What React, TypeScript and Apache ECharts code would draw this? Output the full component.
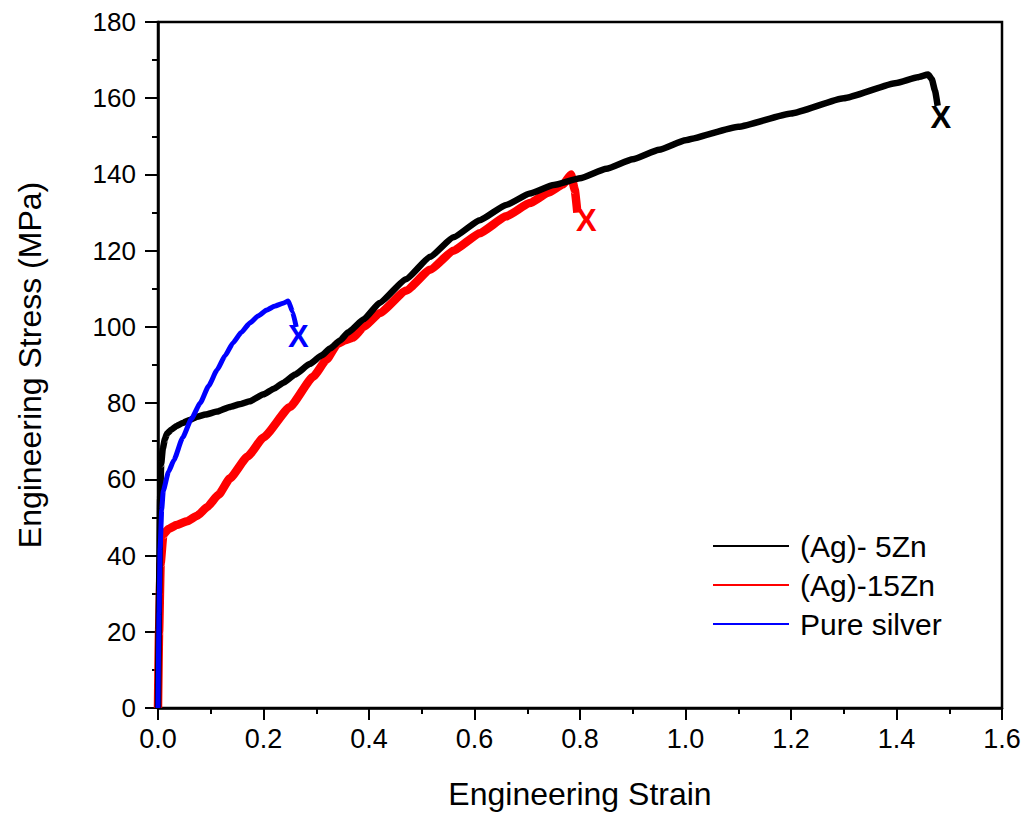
import React, { useEffect, useRef } from "react";
import * as echarts from "echarts";

// Engineering strain / stress data
const ag5ZnStrain = [0, 0.002, 0.004, 0.006, 0.009, 0.013, 0.017, 0.025, 0.035, 0.047, 0.06, 0.074, 0.09, 0.112, 0.136, 0.155, 0.174, 0.2, 0.22, 0.237, 0.26, 0.288, 0.31, 0.326, 0.345, 0.36, 0.39, 0.42, 0.47, 0.516, 0.56, 0.61, 0.66, 0.705, 0.75, 0.8, 0.85, 0.9, 0.95, 1.0, 1.1, 1.2, 1.3, 1.4, 1.44, 1.46, 1.467, 1.473, 1.478];
const ag5ZnStress = [0, 30, 55, 64, 68, 70.5, 72, 73, 74, 74.8, 75.6, 76.4, 77, 77.8, 79, 79.7, 80.5, 82.3, 83.8, 85.3, 87.5, 90.3, 92.5, 94.3, 96.4, 98.5, 102, 106.3, 112.5, 118.4, 123.5, 128, 132, 135, 137.2, 139, 141.5, 144, 146.5, 149, 152.5, 156, 160, 164, 165.5, 166.2, 165, 162, 158];

const ag15ZnStrain = [0, 0.002, 0.005, 0.01, 0.02, 0.035, 0.055, 0.075, 0.093, 0.115, 0.136, 0.17, 0.2, 0.25, 0.294, 0.32, 0.34, 0.355, 0.37, 0.39, 0.42, 0.47, 0.516, 0.56, 0.61, 0.66, 0.705, 0.74, 0.768, 0.783, 0.79, 0.795];
const ag15ZnStress = [0, 20, 38, 45.5, 47, 48, 49, 50.5, 52.7, 56, 60.2, 66, 71, 79, 86.9, 91.5, 95.5, 96.5, 97.2, 100, 103.6, 109.5, 115, 120, 124.6, 129, 132.5, 135.2, 137.4, 140, 136, 130];

const pureStrain = [0, 0.002, 0.004, 0.007, 0.01, 0.02, 0.03, 0.047, 0.063, 0.08, 0.096, 0.112, 0.127, 0.142, 0.158, 0.174, 0.19, 0.206, 0.222, 0.237, 0.247, 0.255, 0.262];
const pureStress = [0, 25, 42, 52, 57, 62, 65, 71, 75.8, 80, 84.5, 88.7, 92.4, 95.8, 98.6, 101, 102.9, 104.4, 105.5, 106.2, 106.8, 104, 100];

// fracture marks (X)
const fractureStrain = [1.484, 0.812, 0.266];
const fractureStress = [155, 128, 97.5];

const seriesNames = ["(Ag)- 5Zn", "(Ag)-15Zn", "Pure silver"];
const seriesColors = ["#000000", "#ff0000", "#0000ff"];
const seriesWidths = [6.5, 8.5, 5];

const xTicks = [0, 1.6, 0.2];
const yTicks = [0, 180, 20];

const zip = (a: number[], b: number[]) => a.map((v, i) => [v, b[i]]);

export default function App() {
  const ref = useRef<HTMLDivElement>(null);
  useEffect(() => {
    if (!ref.current) return;
    const chart = echarts.init(ref.current, undefined, { renderer: "svg" });
    const font = "Arial, 'Liberation Sans', sans-serif";
    const curves = [
      zip(ag5ZnStrain, ag5ZnStress),
      zip(ag15ZnStrain, ag15ZnStress),
      zip(pureStrain, pureStress),
    ];
    const zs = [4, 3, 5];
    const lineSeries = curves.map((d, i) => ({
      name: seriesNames[i],
      type: "line",
      data: d,
      showSymbol: false,
      symbol: "none",
      smooth: 0.15,
      smoothMonotone: "x",
      lineStyle: { color: seriesColors[i], width: seriesWidths[i], join: "round" },
      itemStyle: { color: seriesColors[i] },
      z: zs[i],
    }));
    const xSeries = fractureStrain.map((s, i) => ({
      name: "fracture" + i,
      type: "scatter",
      data: [[s, fractureStress[i]]],
      symbol: "circle",
      symbolSize: 0,
      itemStyle: { color: seriesColors[i], opacity: 1 },
      label: {
        show: true,
        position: "inside",
        formatter: "X",
        color: seriesColors[i],
        opacity: 1,
        fontSize: 31,
        fontWeight: "bold",
        fontFamily: font,
        textBorderWidth: 0,
      },
      z: 10,
    }));
    chart.setOption({
      animation: false,
      backgroundColor: "#ffffff",
      grid: {
        left: 158,
        top: 22,
        right: 26,
        bottom: 111,
        show: true,
        borderColor: "#000",
        borderWidth: 2.5,
      },
      legend: {
        data: seriesNames.map((n) => ({ name: n, icon: "rect" })),
        orient: "vertical",
        left: 708,
        top: 526,
        itemWidth: 76,
        itemHeight: 2,
        itemGap: 9,
        textStyle: { fontSize: 30, fontFamily: font, color: "#000", padding: [0, 0, 0, 6] },
      },
      xAxis: {
        type: "value",
        min: xTicks[0],
        max: xTicks[1],
        interval: xTicks[2],
        name: "Engineering Strain",
        nameLocation: "middle",
        nameGap: 70,
        nameTextStyle: { fontSize: 32, fontFamily: font, color: "#000" },
        axisLine: { show: true, lineStyle: { color: "#000", width: 2.5 } },
        axisTick: { show: true, inside: false, length: 12, lineStyle: { width: 2, color: "#000" } },
        minorTick: { show: true, splitNumber: 2, length: 6, lineStyle: { width: 2, color: "#000" } },
        splitLine: { show: false },
        axisLabel: {
          fontSize: 27,
          fontFamily: font,
          color: "#000",
          margin: 17,
          formatter: (v: number) => v.toFixed(1),
        },
      },
      yAxis: {
        type: "value",
        min: yTicks[0],
        max: yTicks[1],
        interval: yTicks[2],
        name: "Engineering Stress (MPa)",
        nameLocation: "middle",
        nameGap: 112,
        nameTextStyle: { fontSize: 32, fontFamily: font, color: "#000" },
        axisLine: { show: true, lineStyle: { color: "#000", width: 2.5 } },
        axisTick: { show: true, inside: false, length: 13, lineStyle: { width: 2, color: "#000" } },
        minorTick: { show: true, splitNumber: 2, length: 6, lineStyle: { width: 2, color: "#000" } },
        splitLine: { show: false },
        axisLabel: { fontSize: 26, fontFamily: font, color: "#000", margin: 22 },
      },
      series: [...lineSeries, ...xSeries],
    });
    return () => chart.dispose();
  }, []);
  return (
    <div
      ref={ref}
      style={{ position: "fixed", left: 0, top: 0, width: 1028, height: 819, background: "#fff" }}
    />
  );
}
